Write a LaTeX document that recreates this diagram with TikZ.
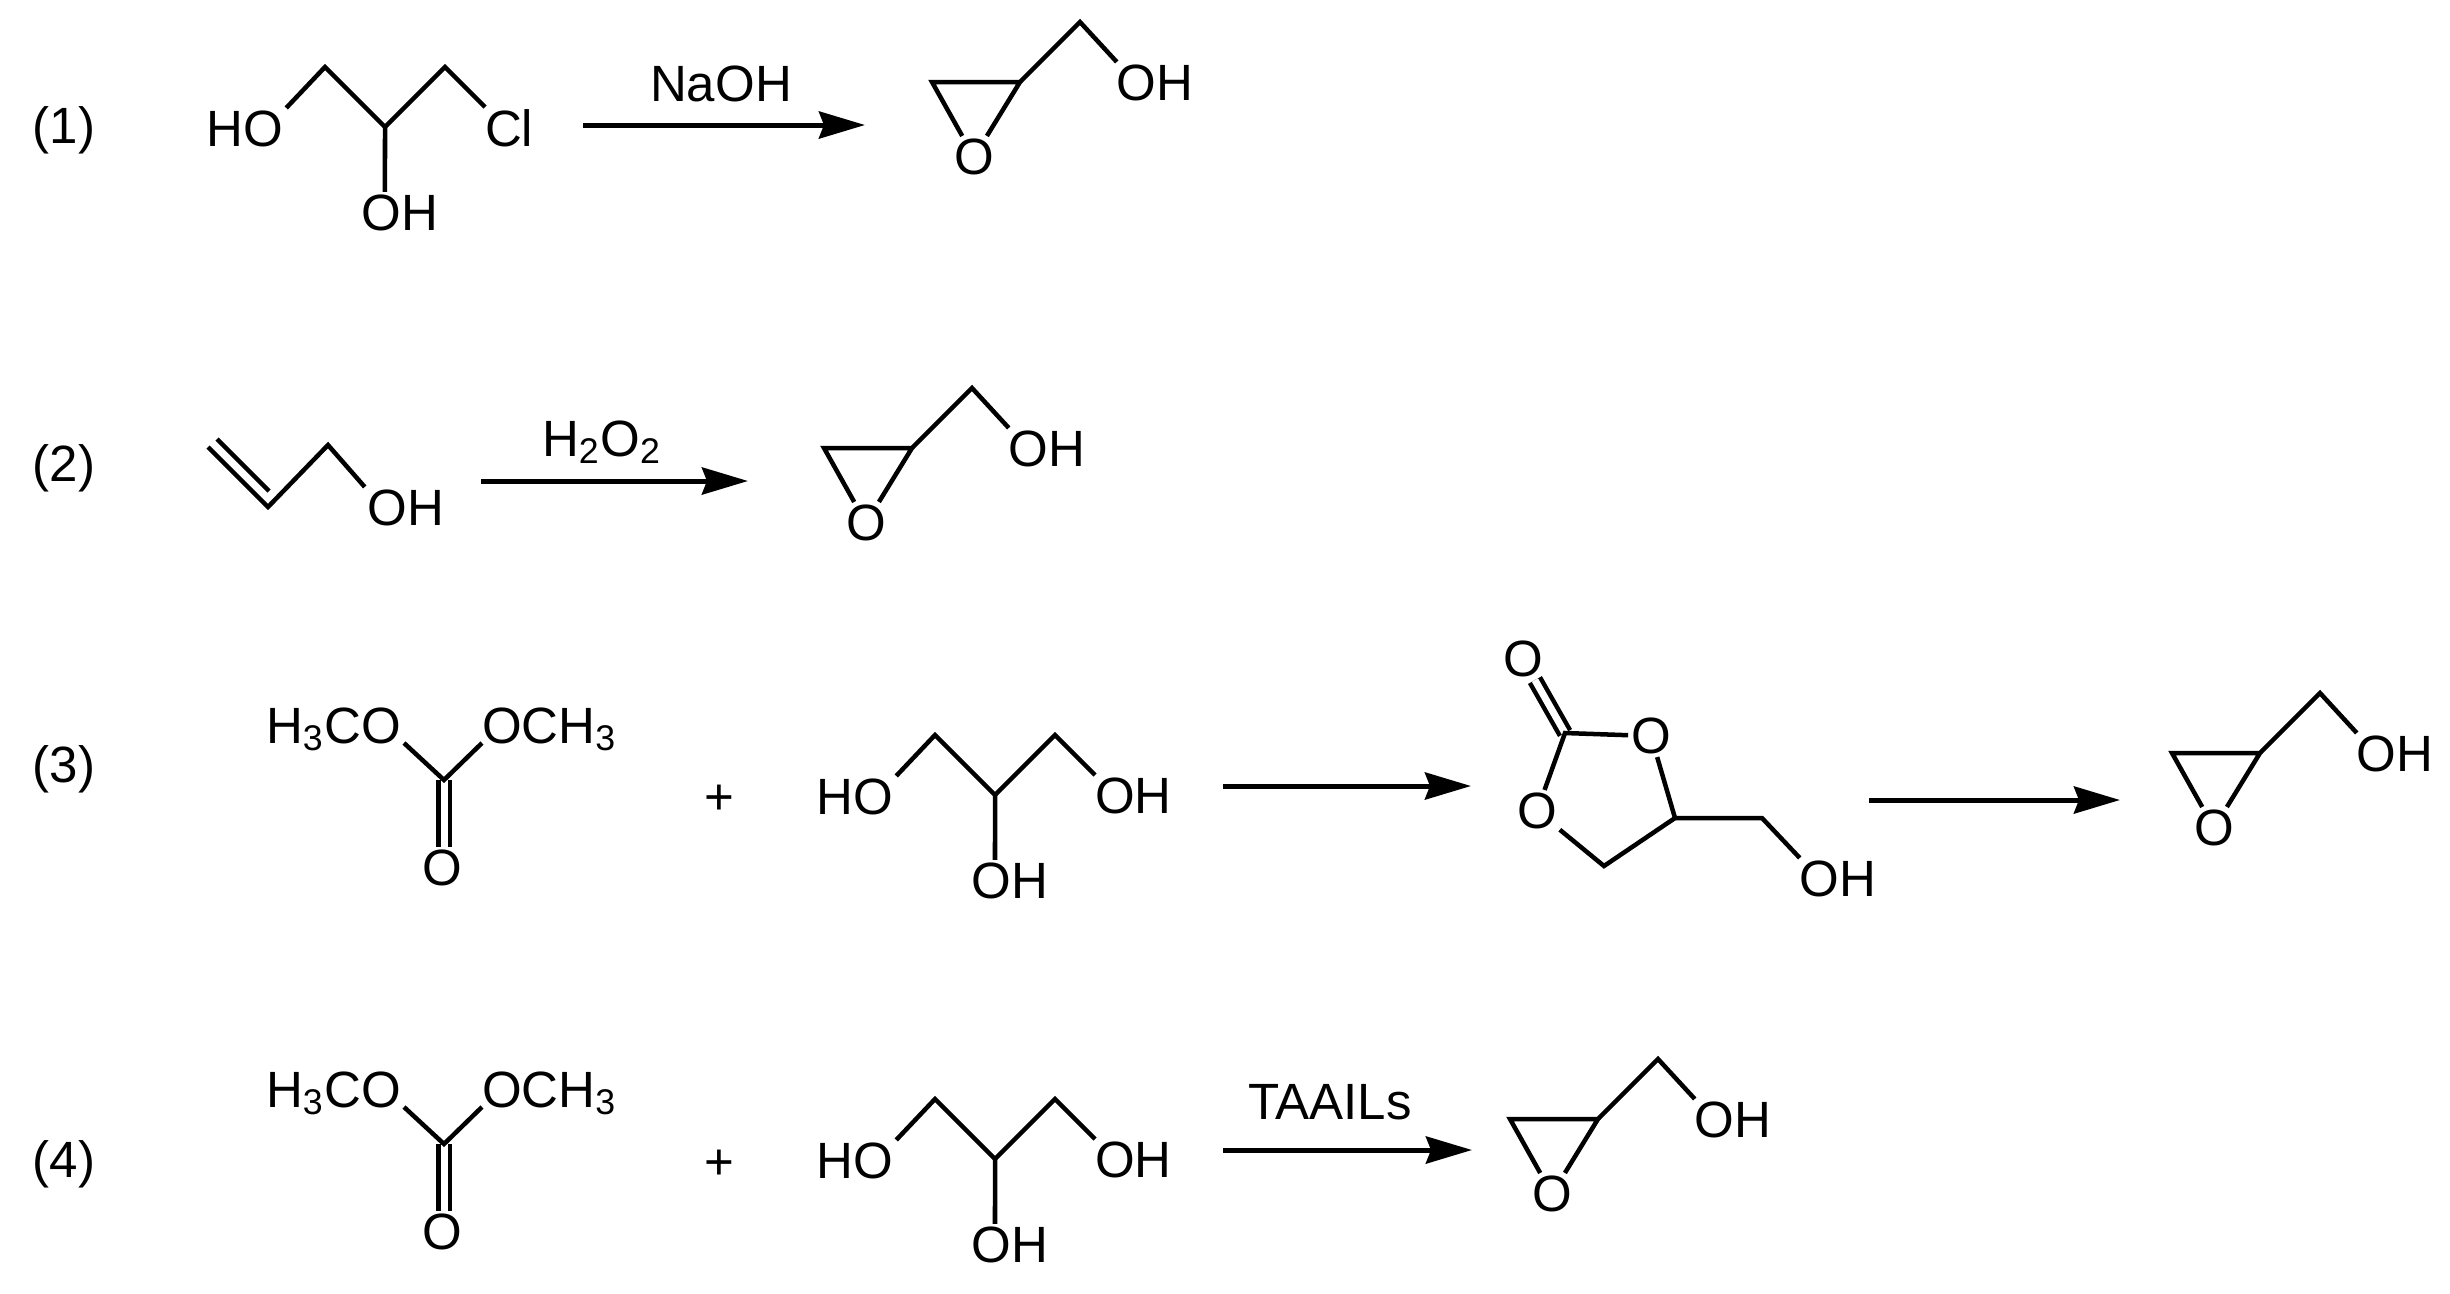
\documentclass[tikz,border=0pt]{standalone}
\usepackage{fontspec}
\setmainfont{Liberation Sans}
\usetikzlibrary{arrows.meta, positioning}

\tikzset{
  atom/.style={inner sep=0pt, outer sep=0.03cm, font=\fontsize{14.5}{17}\selectfont},
  bond/.style={line width=0.045cm, line join=miter},
  dbond/.style={bond, double, double distance=0.07cm},
  rxn/.style={line width=0.05cm, -{Stealth[length=0.46cm, width=0.27cm, inset=0.05cm]}},
}

% epoxide with CH2OH, placed by the ring carbon next to the side chain
\newcommand{\glycidol}[2]{
\begin{scope}[shift={(#1)}]
\coordinate (#2c1) at (0,0);
\coordinate (#2c2) at (-88,0);
\coordinate (#2c3) at (60,-60);
\node[atom] (#2o) at (-46,75) {O};
\node[atom] (#2oh) at (135,1) {OH};
\draw[bond] (#2o) -- (#2c2) -- (#2c1) -- (#2o);
\draw[bond] (#2c1) -- (#2c3) -- ([xshift=0.03cm]#2oh.north west);
\end{scope}
}

% three carbon chain, placed by its middle carbon
\newcommand{\chain}[3]{
\begin{scope}[shift={(#1)}]
\coordinate (#2c2) at (0,0);
\coordinate (#2c1) at (-60,-60);
\coordinate (#2c3) at (60,-60);
\node[atom] (#2ho) at (-140,2) {HO};
\node[atom, anchor=north west] (#2r) at (97,-20) {#3};
\node[atom] (#2oh) at (15,86) {OH};
\draw[bond] (#2ho.north east) -- (#2c1) -- (#2c2) -- (#2c3) -- ([xshift=0.03cm]#2r.north west);
\draw[bond] (#2c2) -- ([xshift=-0.15cm]#2oh.north);
\end{scope}
}

% dimethyl carbonate, placed by its carbonyl carbon
\newcommand{\carbonate}[2]{
\begin{scope}[shift={(#1)}]
\coordinate (#2c) at (0,0);
\node[atom, anchor=base east] (#2l) at (-40,-37) {H\textsubscript{3}CO};
\node[atom, anchor=base west] (#2r) at (35,-37) {OCH\textsubscript{3}};
\node[atom] (#2o) at (-2,88) {O};
\draw[dbond] (#2c) -- (#2c |- #2o.north);
\draw[bond] (#2l.base east) -- (#2c) -- ([xshift=0.03cm]#2r.base west);
\end{scope}
}

\begin{document}
\begin{tikzpicture}[x=0.01cm, y=-0.01cm]
\useasboundingbox (0,0) rectangle (2450,1293);

% (1)
\node[atom] (n1) at (64,130) {(1)};
\chain{385,127}{a}{Cl}
\coordinate (a1s) at (583,125);
\coordinate (a1e) at (865,125);
\draw[rxn] (a1s) -- (a1e);
\node[atom] (l1) at (721,84) {NaOH};
\glycidol{1020,82}{p}

% (2)
\node[atom] (n2) at (64,468) {(2)};
\coordinate (b1) at (208,447);
\coordinate (b1x) at (217,439);
\coordinate (b2) at (268,507);
\coordinate (b2x) at (269,491);
\coordinate (b3) at (328,445);
\node[atom] (boh) at (406,508) {OH};
\draw[bond] (b1) -- (b2) -- (b3) -- (boh.north west);
\draw[bond] (b1x) -- (b2x);
\coordinate (a2s) at (481,481);
\coordinate (a2e) at (748,481);
\draw[rxn] (a2s) -- (a2e);
\node[atom] (l2) at (602,442) {H\textsubscript{2}O\textsubscript{2}};
\glycidol{912,448}{q}

% (3)
\node[atom] (n3) at (64,769) {(3)};
\carbonate{444,780}{d}
\node[atom] (plus3) at (719,800) {+};
\chain{995,795}{e}{OH}
\coordinate (a3s) at (1223,786);
\coordinate (a3e) at (1471,786);
\draw[rxn] (a3s) -- (a3e);
\coordinate (cc) at (1565,733);
\coordinate (c4) at (1675,818);
\coordinate (c5) at (1604,866);
\coordinate (c6) at (1762,818);
\node[atom] (o1) at (1523,659) {O};
\node[atom] (o2) at (1651,736) {O};
\node[atom] (o3) at (1537,811) {O};
\node[atom] (coh) at (1838,879) {OH};
\draw[dbond] (cc) -- (o1);
\draw[bond] (o3) -- (cc) -- (o2) -- (c4) -- (c5) -- (o3);
\draw[bond] (c4) -- (c6) -- ([xshift=0.03cm]coh.north west);
\coordinate (a4s) at (1869,800);
\coordinate (a4e) at (2120,800);
\draw[rxn] (a4s) -- (a4e);
\glycidol{2260,753}{r}

% (4)
\node[atom] (n4) at (64,1164) {(4)};
\carbonate{444,1144}{f}
\node[atom] (plus4) at (719,1165) {+};
\chain{995,1159}{g}{OH}
\coordinate (a5s) at (1223,1150);
\coordinate (a5e) at (1472,1150);
\draw[rxn] (a5s) -- (a5e);
\node[atom] (l4) at (1330,1102) {TAAILs};
\glycidol{1598,1119}{s}

\end{tikzpicture}
\end{document}
